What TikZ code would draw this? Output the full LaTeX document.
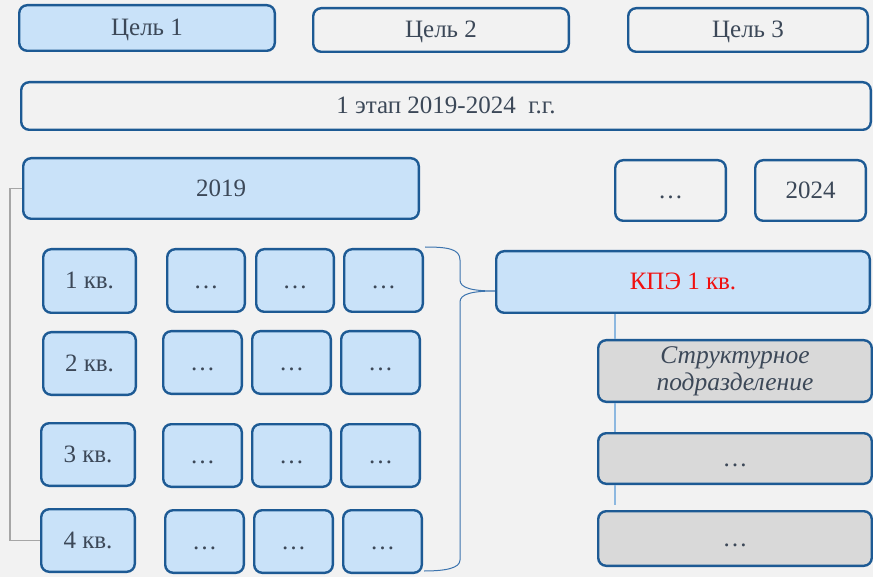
\documentclass[tikz,border=0pt]{standalone}
\usepackage{fontspec}
\setmainfont{Liberation Serif}[Ligatures=TeX]
\newfontfamily\tnr{Liberation Serif}
\definecolor{bg}{HTML}{F2F2F2}
\definecolor{bord}{HTML}{1D5A94}
\definecolor{lb}{HTML}{C9E2F9}
\definecolor{gr}{HTML}{D9D9D9}
\definecolor{txt}{HTML}{3C4858}
\definecolor{kred}{HTML}{F01010}
\definecolor{conn}{HTML}{A6A6A6}
\definecolor{vline}{HTML}{8DB8E0}
\definecolor{brk}{HTML}{3C74AE}
\newcommand\bx[7]{\node[box,#6,minimum width={(#4-#2-2.4)*1pt},minimum height={(#5-#3-2.4)*1pt}] (#1) at ({(#2+#4)/2},{(#3+#5)/2}) {#7};}
\begin{document}
\begin{tikzpicture}[x=1pt,y=-1pt,
  box/.style={draw=bord,line width=2.4pt,rounded corners=8pt,text=txt,font=\tnr\fontsize{25}{27}\selectfont,inner sep=0pt,text height=16pt,text depth=0pt},
  blue/.style={fill=lb},
  plain/.style={fill=bg},
  grey/.style={fill=gr},
  redtxt/.style={text=kred},
  twoline/.style={align=center,text height=,text depth=,font=\tnr\itshape\fontsize{25.5}{27}\selectfont}]
\fill[bg] (0,0) rectangle (873,577);
\useasboundingbox (0,0) rectangle (873,577);
% top row
\bx{c1}{18}{4}{276}{52}{blue}{Цель 1}
\bx{c2}{312}{7}{570}{53}{plain}{Цель 2}
\bx{c3}{627}{7}{869}{53}{plain}{Цель 3}
\bx{st}{20}{81}{872}{131}{plain}{1 этап 2019-2024~ г.г.}
% years
\bx{y19}{22}{157}{420}{220}{blue}{2019}
\bx{yd}{614}{159}{727}{222}{plain}{…}
\bx{y24}{754}{159}{867}{222}{plain}{2024}
% quarters
\bx{q1}{42}{248}{137}{314}{blue}{1 кв.}
\bx{q1a}{166}{248}{246}{313}{blue}{…}
\bx{q1b}{255}{248}{335}{313}{blue}{…}
\bx{q1c}{343}{248}{424}{313}{blue}{…}
\bx{q2}{42}{331}{137}{396}{blue}{2 кв.}
\bx{q2a}{162}{330}{243}{395}{blue}{…}
\bx{q2b}{251}{330}{332}{395}{blue}{…}
\bx{q2c}{340}{330}{421}{395}{blue}{…}
\bx{q3}{40}{422}{136}{487}{blue}{3 кв.}
\bx{q3a}{162}{423}{243}{488}{blue}{…}
\bx{q3b}{251}{423}{332}{488}{blue}{…}
\bx{q3c}{340}{423}{421}{488}{blue}{…}
\bx{q4}{40}{508}{136}{573}{blue}{4 кв.}
\bx{q4a}{164}{509}{245}{574}{blue}{…}
\bx{q4b}{253}{509}{334}{574}{blue}{…}
\bx{q4c}{342}{509}{423}{574}{blue}{…}
% right column
\bx{kpe}{495}{250}{871}{314}{blue,redtxt}{КПЭ 1 кв.}
\bx{sp}{597}{339}{873}{403}{grey,twoline}{Структурное\\подразделение}
\bx{g1}{597}{432}{873}{485}{grey}{…}
\bx{g2}{597}{510}{873}{567}{grey}{…}
% connectors
\draw[conn,line width=1.2pt] (y19.west) -- ++(-12,0) |- (q4.west);
\coordinate (vx) at (615,0);
\coordinate (vend) at (615,505);
\draw[vline,line width=1.5pt] (kpe.south -| vx) -- (sp.north -| vx)
  (sp.south -| vx) -- (g1.north -| vx)
  (g1.south -| vx) -- (vend);
\coordinate (bt) at (425,247);
\coordinate (bb) at (424,571);
\draw[brk,line width=1pt] (bt) .. controls (448,247) and (460,249) .. (460,260) -- (460,280)
  .. controls (460,288) and (472,291) .. ([yshift=-9pt]kpe.west)
  .. controls (472,291) and (460,294) .. (460,302) -- (460,560)
  .. controls (460,568) and (446,571) .. (bb);
\end{tikzpicture}
\end{document}
